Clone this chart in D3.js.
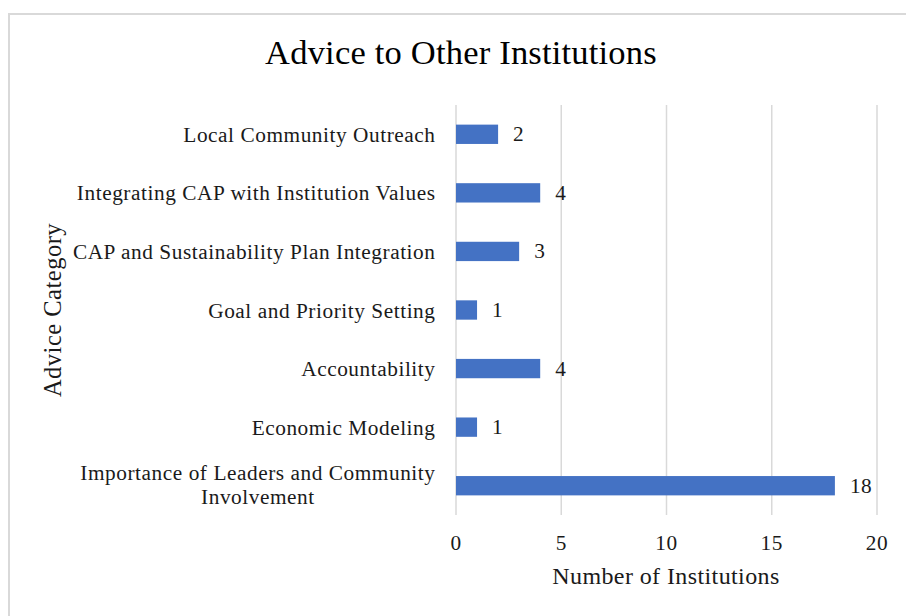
<!DOCTYPE html>
<html>
<head>
<meta charset="utf-8">
<script src="https://cdn.jsdelivr.net/npm/d3@7"></script>
<style>
  body { margin: 0; background: #fff; }
  svg { display: block; font-family: "Liberation Serif", "Times New Roman", serif; }
</style>
</head>
<body>
<svg id="chart" width="906" height="616"></svg>
<script>
// chart data, top to bottom
const categories = [
    "Local Community Outreach",
    "Integrating CAP with Institution Values",
    "CAP and Sustainability Plan Integration",
    "Goal and Priority Setting",
    "Accountability",
    "Economic Modeling",
    "Importance of Leaders and Community Involvement"
];
const values = [2, 4, 3, 1, 4, 1, 18];
const xTicks = [0, 5, 10, 15, 20];

// labels that Excel wraps
const wrapped = {
    "Importance of Leaders and Community Involvement": ["Importance of Leaders and Community", "Involvement"]
};

const width = 906, height = 616;
const plot = {left: 456, right: 877, top: 105, bottom: 515};

const svg = d3.select("#chart");

// outer chart border (cut off on the right and bottom)
svg.append("rect")
    .attr("x", 9)
    .attr("y", 14)
    .attr("width", width + 20)
    .attr("height", height + 20)
    .attr("fill", "none")
    .attr("stroke", "#d9d9d9")
    .attr("stroke-width", 2);

const x = d3.scaleLinear()
    .domain([0, 20])
    .range([plot.left, plot.right]);

const y = d3.scaleBand()
    .domain(categories)
    .range([plot.top, plot.bottom])
    .paddingInner(0.67)
    .paddingOuter(0.335);

// title
svg.append("text")
    .attr("x", 461)
    .attr("y", 64)
    .attr("text-anchor", "middle")
    .attr("font-size", 34.5)
    .attr("letter-spacing", 0.2)
    .attr("fill", "#000")
    .text("Advice to Other Institutions");

// vertical gridlines
svg.append("g")
    .selectAll("line")
    .data(xTicks)
    .join("line")
    .attr("x1", d => x(d))
    .attr("x2", d => x(d))
    .attr("y1", plot.top)
    .attr("y2", plot.bottom)
    .attr("stroke", "#d9d9d9")
    .attr("stroke-width", 1.5);

// x tick labels
svg.append("g")
    .selectAll("text")
    .data(xTicks)
    .join("text")
    .attr("x", d => x(d))
    .attr("y", 550)
    .attr("text-anchor", "middle")
    .attr("font-size", 21.3)
    .attr("letter-spacing", 0.5)
    .attr("fill", "#1a1a1a")
    .text(d => d);

// bars
svg.append("g")
    .selectAll("rect")
    .data(values)
    .join("rect")
    .attr("x", x(0))
    .attr("y", (d, i) => y(categories[i]))
    .attr("width", d => x(d) - x(0))
    .attr("height", y.bandwidth())
    .attr("fill", "#4472c4");

// value labels
svg.append("g")
    .selectAll("text")
    .data(values)
    .join("text")
    .attr("x", d => x(d) + 15)
    .attr("y", (d, i) => y(categories[i]) + y.bandwidth() / 2 + 7)
    .attr("font-size", 21.3)
    .attr("letter-spacing", 0.5)
    .attr("fill", "#1a1a1a")
    .text(d => d);

// category labels
const catG = svg.append("g")
    .attr("font-size", 21.3)
    .attr("letter-spacing", 0.55)
    .attr("fill", "#1a1a1a");
categories.forEach(c => {
    const cy = y(c) + y.bandwidth() / 2;
    const right = x(0) - 20.5;
    if (wrapped[c]) {
        const lines = wrapped[c];
        const t = catG.append("text")
            .attr("text-anchor", "middle");
        const spans = lines.map((ln, i) => t.append("tspan")
            .attr("y", cy + 6 + (i - (lines.length - 1) / 2) * 24.3)
            .text(ln));
        // centre the wrapped block so its widest line ends at the axis gap
        const w = d3.max(spans, s => s.node().getComputedTextLength());
        spans.forEach(s => s.attr("x", right - w / 2));
    } else {
        catG.append("text")
            .attr("x", right)
            .attr("y", cy + 7.5)
            .attr("text-anchor", "end")
            .text(c);
    }
});

// axis titles
svg.append("text")
    .attr("x", 666)
    .attr("y", 584)
    .attr("text-anchor", "middle")
    .attr("font-size", 24)
    .attr("letter-spacing", 0.4)
    .attr("fill", "#1a1a1a")
    .text("Number of Institutions");

svg.append("text")
    .attr("transform", "translate(61,310) rotate(-90)")
    .attr("text-anchor", "middle")
    .attr("font-size", 24.5)
    .attr("letter-spacing", 0.5)
    .attr("fill", "#1a1a1a")
    .text("Advice Category");
</script>
</body>
</html>
